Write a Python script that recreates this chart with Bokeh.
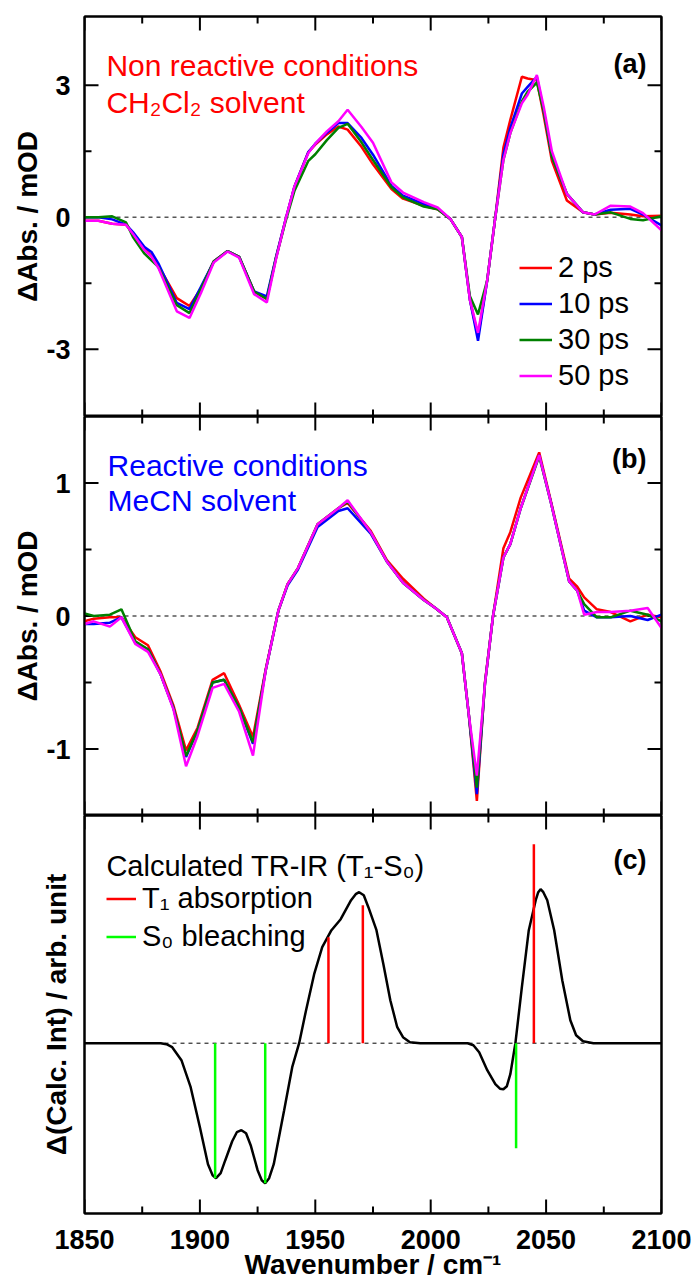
from bokeh.plotting import figure
from bokeh.models import (Range1d, LinearAxis, FixedTicker, Span, Label, Legend,
                          LegendItem, CustomJSTickFormatter)
from bokeh.layouts import column
from bokeh.embed import file_html
from bokeh.resources import INLINE

FONT = "Liberation Sans"

# ---------------- data ----------------
# panel (a): non reactive, CH2Cl2
wn_a = [1850, 1856, 1862, 1868, 1871, 1876, 1879, 1882, 1890, 1895.5,
        1900.5, 1906, 1912, 1917, 1923.5, 1929, 1933, 1937, 1941, 1947,
        1950, 1955, 1960, 1964, 1970, 1975, 1983, 1988, 1997, 2003,
        2008.5, 2013.5, 2017, 2020.5, 2024.5, 2028, 2031.5, 2034.5, 2039.5, 2042,
        2046, 2049, 2052.5, 2059, 2066, 2071, 2078, 2086.5, 2092, 2100]
a_2ps = [-0.08, -0.08, -0.15, -0.17, -0.37, -0.72, -0.88, -1.10, -1.84, -2.02,
         -1.62, -1.00, -0.77, -0.90, -1.69, -1.86, -0.92, -0.08, 0.70, 1.48,
         1.65, 1.88, 2.06, 1.99, 1.60, 1.20, 0.64, 0.42, 0.26, 0.18,
         -0.04, -0.45, -1.88, -2.70, -1.43, 0.00, 1.58, 2.21, 3.19, 3.15,
         3.11, 2.30, 1.28, 0.38, 0.11, 0.06, 0.10, 0.06, 0.02, 0.03]
a_10ps = [0.00, 0.00, -0.05, -0.17, -0.34, -0.68, -0.79, -1.05, -1.95, -2.09,
          -1.58, -1.01, -0.77, -0.90, -1.69, -1.80, -0.90, -0.08, 0.70, 1.48,
          1.67, 1.92, 2.14, 2.14, 1.80, 1.42, 0.71, 0.49, 0.30, 0.19,
          -0.04, -0.45, -1.88, -2.81, -1.43, 0.00, 1.43, 2.03, 2.81, 2.96,
          3.19, 2.40, 1.38, 0.53, 0.11, 0.06, 0.17, 0.19, 0.06, -0.19]
a_30ps = [0.00, 0.00, 0.02, -0.12, -0.45, -0.83, -0.98, -1.13, -2.00, -2.18,
          -1.62, -1.01, -0.77, -0.90, -1.69, -1.86, -0.92, -0.12, 0.60, 1.28,
          1.43, 1.75, 2.03, 2.12, 1.70, 1.30, 0.68, 0.45, 0.24, 0.18,
          -0.04, -0.45, -1.80, -2.21, -1.43, 0.00, 1.30, 1.91, 2.63, 2.85,
          3.06, 2.40, 1.38, 0.53, 0.11, 0.06, 0.11, -0.04, -0.07, 0.02]
a_50ps = [-0.08, -0.08, -0.15, -0.17, -0.38, -0.75, -0.90, -1.15, -2.14, -2.29,
          -1.72, -1.03, -0.78, -0.92, -1.75, -1.94, -0.95, -0.08, 0.70, 1.46,
          1.67, 1.95, 2.18, 2.44, 2.05, 1.69, 0.79, 0.56, 0.34, 0.22,
          -0.04, -0.45, -1.88, -2.63, -1.43, 0.00, 1.30, 1.91, 2.59, 2.78,
          3.23, 2.50, 1.50, 0.53, 0.11, 0.06, 0.26, 0.24, 0.09, -0.30]

# panel (b): reactive, MeCN
wn_b = [1850, 1854, 1861, 1866, 1872, 1877.5, 1883, 1888.5, 1894, 1899,
        1905.5, 1910.5, 1917, 1923, 1928.5, 1934, 1938, 1942.5, 1951, 1960,
        1964, 1974, 1981, 1988, 1997, 2002, 2007, 2013.5, 2016.5, 2020,
        2023.5, 2027, 2031.5, 2034.5, 2039, 2047, 2052, 2060, 2063.5, 2066.5,
        2072, 2078, 2086.5, 2094, 2100]
b_2ps = [-0.04, -0.02, -0.01, -0.01, -0.16, -0.22, -0.42, -0.67, -1.01, -0.84,
         -0.48, -0.43, -0.67, -0.91, -0.40, 0.04, 0.24, 0.36, 0.69, 0.81,
         0.85, 0.64, 0.42, 0.28, 0.13, 0.06, -0.01, -0.28, -0.74, -1.39,
         -0.50, 0.00, 0.51, 0.63, 0.89, 1.23, 0.87, 0.28, 0.22, 0.14,
         0.05, 0.03, -0.04, 0.01, -0.01]
b_10ps = [-0.06, -0.06, -0.05, -0.01, -0.20, -0.25, -0.44, -0.69, -1.06, -0.86,
          -0.50, -0.48, -0.69, -0.96, -0.41, 0.04, 0.23, 0.35, 0.67, 0.79,
          0.81, 0.62, 0.41, 0.25, 0.12, 0.06, -0.01, -0.28, -0.74, -1.34,
          -0.51, 0.00, 0.44, 0.54, 0.81, 1.21, 0.86, 0.26, 0.19, 0.04,
          -0.01, -0.01, 0.00, -0.03, 0.01]
b_30ps = [0.02, 0.00, 0.01, 0.05, -0.19, -0.25, -0.44, -0.69, -1.05, -0.86,
          -0.50, -0.48, -0.69, -0.95, -0.41, 0.04, 0.24, 0.36, 0.69, 0.81,
          0.86, 0.63, 0.41, 0.25, 0.12, 0.06, -0.01, -0.28, -0.74, -1.29,
          -0.51, 0.00, 0.44, 0.54, 0.81, 1.20, 0.86, 0.26, 0.19, 0.09,
          -0.01, -0.01, 0.04, 0.01, -0.04]
b_50ps = [-0.06, -0.04, -0.08, -0.01, -0.21, -0.27, -0.44, -0.70, -1.13, -0.90,
          -0.54, -0.51, -0.72, -1.05, -0.41, 0.04, 0.24, 0.36, 0.69, 0.81,
          0.87, 0.63, 0.41, 0.25, 0.12, 0.06, -0.01, -0.28, -0.74, -1.20,
          -0.51, 0.00, 0.44, 0.54, 0.81, 1.21, 0.86, 0.26, 0.19, 0.01,
          0.03, 0.03, 0.04, 0.06, -0.09]

# panel (c): calculated TR-IR (T1 - S0)
wn_c = [1850, 1883, 1885.5, 1888, 1892, 1896, 1900, 1903.5, 1905.5, 1907,
        1909, 1911, 1914, 1916, 1918, 1920, 1922, 1925, 1926.8, 1928.3,
        1930, 1932, 1936.5, 1940, 1943, 1946, 1949.5, 1953, 1957, 1961,
        1965.5, 1967.5, 1969, 1971, 1973, 1976.5, 1979.5, 1982.5, 1985.5, 1988,
        1991, 1995.5, 2016, 2018.5, 2021, 2024.5, 2028, 2030, 2031.5, 2033,
        2034.5, 2036.7, 2039.5, 2042.5, 2045.5, 2046.6, 2047.6, 2048.8, 2050.5, 2053.5,
        2057, 2060.5, 2063, 2066, 2070.5, 2100]
calc = [0.00, 0.00, -0.01, -0.04, -0.17, -0.44, -0.84, -1.21, -1.32, -1.35,
        -1.30, -1.17, -0.98, -0.89, -0.87, -0.90, -1.02, -1.27, -1.37, -1.40,
        -1.35, -1.21, -0.67, -0.24, 0.00, 0.33, 0.69, 0.96, 1.13, 1.24,
        1.43, 1.49, 1.51, 1.48, 1.36, 1.13, 0.79, 0.43, 0.16, 0.06,
        0.01, 0.00, 0.00, -0.02, -0.09, -0.27, -0.41, -0.455, -0.46, -0.43,
        -0.31, 0.00, 0.56, 1.13, 1.43, 1.51, 1.54, 1.51, 1.43, 1.13,
        0.63, 0.23, 0.08, 0.02, 0.00, 0.00]
t1_wn = [1955.7, 1970.6, 2044.7]
t1_int = [1.06, 1.38, 1.99]
s0_wn = [1906.6, 1928.3, 2037.0]
s0_int = [-1.35, -1.40, -1.05]

delays = ["2 ps", "10 ps", "30 ps", "50 ps"]
colors = ["#ff0000", "#0000ff", "#008000", "#ff00ff"]
x_major = [1850, 1900, 1950, 2000, 2050, 2100]
x_minor = [1875, 1925, 1975, 2025, 2075]
ya_major, ya_minor = [-3, 0, 3], [-1.5, 1.5]
yb_major, yb_minor = [-1, 0, 1], [-0.5, 0.5]

# ---------------- helpers ----------------
X0, X1 = 1850, 2100
XR = Range1d(X0, X1)
W = 692
FRAME_W = 577
num_fmt = "return tick.toFixed(0);"
blank_fmt = "return '';"


def make_fig(height, y0, y1, top, bottom):
    p = figure(width=W, height=height, x_range=XR, y_range=Range1d(y0, y1),
               output_backend="svg", toolbar_location=None,
               x_axis_location=None, y_axis_location=None,
               min_border_left=84, min_border_right=31,
               min_border_top=top, min_border_bottom=bottom)
    p.xgrid.visible = False
    p.ygrid.visible = False
    p.outline_line_color = "black"
    p.outline_line_width = 2
    p.background_fill_color = "white"
    p.border_fill_color = "white"
    p.add_layout(Span(location=0, dimension="width", line_color="black",
                      line_width=1, line_dash="4 4", level="underlay"))
    return p


def frame_ticks(p, y0, y1, frame_h, yt=(), ym=()):
    """Inward pointing ticks on the frame edges (14 px major, 7 px minor)."""
    dy = (y1 - y0) / frame_h
    dx = (X1 - X0) / FRAME_W
    for ticks, L in ((x_major, 14), (x_minor, 7)):
        n = len(ticks)
        p.segment(x0=ticks, y0=[y0] * n, x1=ticks, y1=[y0 + L * dy] * n,
                  line_color="black", line_width=2)
        p.segment(x0=ticks, y0=[y1] * n, x1=ticks, y1=[y1 - L * dy] * n,
                  line_color="black", line_width=2)
    for ticks, L in ((list(yt), 14), (list(ym), 7)):
        n = len(ticks)
        if n == 0:
            continue
        p.segment(x0=[X0] * n, y0=ticks, x1=[X0 + L * dx] * n, y1=ticks,
                  line_color="black", line_width=2)
        p.segment(x0=[X1] * n, y0=ticks, x1=[X1 - L * dx] * n, y1=ticks,
                  line_color="black", line_width=2)


def add_axis(p, side, ticks, labeled=False, label=None,
             label_standoff=0, tick_standoff=12):
    ax = LinearAxis(ticker=FixedTicker(ticks=ticks),
                    axis_line_width=2, axis_line_color="black",
                    major_tick_in=0, major_tick_out=0,
                    minor_tick_in=0, minor_tick_out=0,
                    major_tick_line_color=None, minor_tick_line_color=None)
    if labeled:
        ax.formatter = CustomJSTickFormatter(code=num_fmt)
        ax.major_label_text_font = FONT
        ax.major_label_text_font_size = "27px"
        ax.major_label_text_font_style = "bold"
        ax.major_label_text_color = "black"
        ax.major_label_standoff = tick_standoff
    else:
        ax.formatter = CustomJSTickFormatter(code=blank_fmt)
        ax.major_label_text_font_size = "0px"
        ax.major_label_standoff = 0
    if label:
        ax.axis_label = label
        ax.axis_label_text_font = FONT
        ax.axis_label_text_font_size = "28px"
        ax.axis_label_text_font_style = "bold"
        ax.axis_label_text_color = "black"
        ax.axis_label_standoff = label_standoff
    p.add_layout(ax, side)
    return ax


def legend(items, loc, spacing, gw):
    return Legend(items=items, location=loc, orientation="vertical",
                  padding=0, margin=0, spacing=spacing,
                  glyph_width=gw, glyph_height=33, label_height=33,
                  label_standoff=6, label_text_font=FONT,
                  label_text_font_size="29px", label_text_color="black",
                  border_line_color=None, background_fill_alpha=0)


def txt(p, x, y, s, color, align="left", bold=False, size="30px"):
    p.add_layout(Label(x=x, y=y, text=s, text_color=color, text_align=align,
                       text_font=FONT,
                       text_font_size="27px" if bold else size,
                       text_font_style="bold" if bold else "normal",
                       text_baseline="alphabetic"))


# ---------------- panel (a) ----------------
ya0, ya1 = -4.53, 4.56
pa = make_fig(416, ya0, ya1, 16, 0)
add_axis(pa, "left", ya_major, labeled=True, label="\u0394Abs. / mOD",
         label_standoff=0, tick_standoff=14)
add_axis(pa, "right", ya_major)
add_axis(pa, "above", x_major)
add_axis(pa, "below", x_major)
frame_ticks(pa, ya0, ya1, 400, ya_major, ya_minor)
ra = []
for ys, c in zip([a_2ps, a_10ps, a_30ps, a_50ps], colors):
    ra.append(pa.line(wn_a, ys, line_color=c, line_width=2.5))
pa.add_layout(legend([LegendItem(label=d, renderers=[r]) for d, r in zip(delays, ra)],
                     (435, 24), 3, 33))
txt(pa, 1859.5, 3.45, "Non reactive conditions", "#ff0000")
txt(pa, 1859.5, 2.60, "CH\u2082Cl\u2082 solvent", "#ff0000")
txt(pa, 2093.5, 3.48, "(a)", "black", align="right", bold=True)

# ---------------- panel (b) ----------------
yb0, yb1 = -1.5, 1.5
pb = make_fig(399, yb0, yb1, 0, 0)
add_axis(pb, "left", yb_major, labeled=True, label="\u0394Abs. / mOD",
         label_standoff=0, tick_standoff=14)
add_axis(pb, "right", yb_major)
add_axis(pb, "above", x_major)
add_axis(pb, "below", x_major)
frame_ticks(pb, yb0, yb1, 399, yb_major, yb_minor)
for ys, c in zip([b_2ps, b_10ps, b_30ps, b_50ps], colors):
    pb.line(wn_b, ys, line_color=c, line_width=2.5)
txt(pb, 1860, 1.133, "Reactive conditions", "#0000ff")
txt(pb, 1860, 0.87, "MeCN solvent", "#0000ff")
txt(pb, 2093.5, 1.18, "(b)", "black", align="right", bold=True)

# ---------------- panel (c) ----------------
yc0, yc1 = -1.703, 2.277
pc = make_fig(469, yc0, yc1, 0, 71)
add_axis(pc, "left", [], label="\u0394(Calc. Int) / arb. unit", label_standoff=13)
add_axis(pc, "right", [])
add_axis(pc, "above", x_major)
add_axis(pc, "below", x_major, labeled=True,
         label="Wavenumber / cm\u207b\u00b9", label_standoff=-3, tick_standoff=16)
frame_ticks(pc, yc0, yc1, 398)
pc.line(wn_c, calc, line_color="black", line_width=2.5)
rt = pc.segment(x0=t1_wn, y0=[0] * len(t1_wn), x1=t1_wn, y1=t1_int,
                line_color="#ff0000", line_width=2.5)
rs = pc.segment(x0=s0_wn, y0=[0] * len(s0_wn), x1=s0_wn, y1=s0_int,
                line_color="#00ff00", line_width=2.5)
pc.add_layout(legend([LegendItem(label="T\u2081 absorption", renderers=[rt]),
                      LegendItem(label="S\u2080 bleaching", renderers=[rs])],
                     (22, 260), 5, 30))
txt(pc, 1859.5, 1.777, "Calculated TR-IR (T\u2081-S\u2080)", "black", size="29px")
txt(pc, 2093.5, 1.83, "(c)", "black", align="right", bold=True)

layout = column(pa, pb, pc, spacing=0)
open("out.html", "w").write(file_html(layout, INLINE))
